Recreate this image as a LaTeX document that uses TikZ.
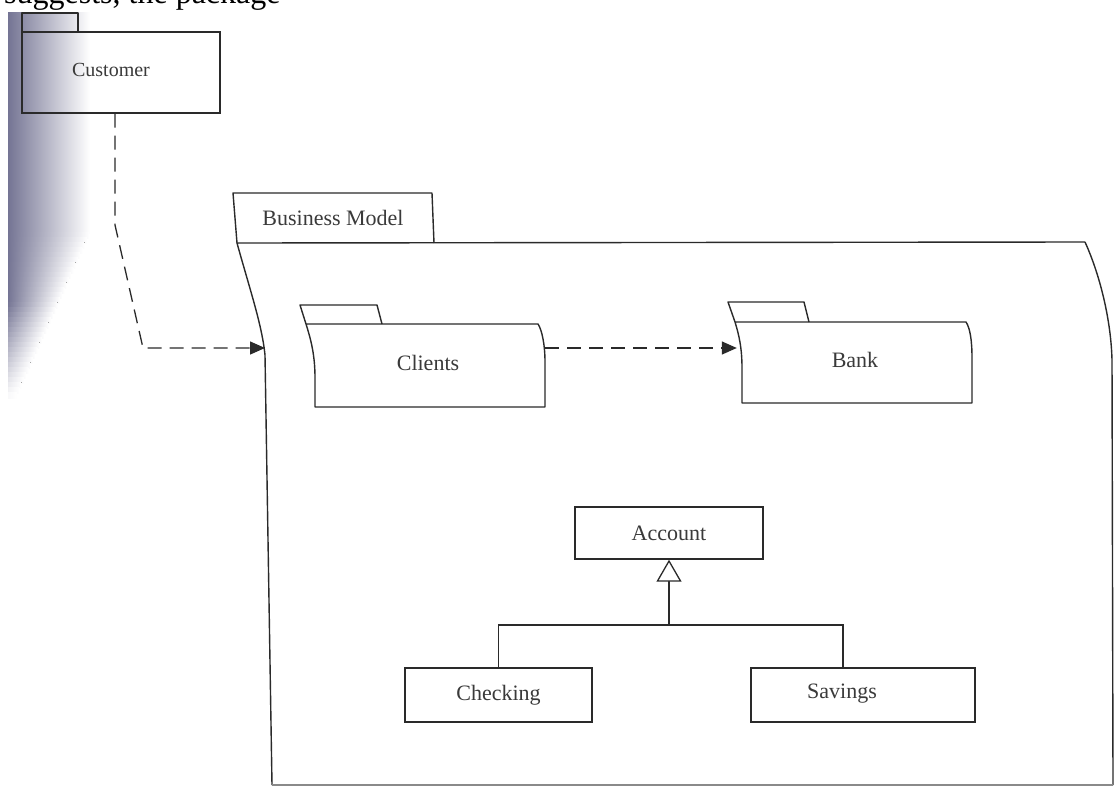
\documentclass[tikz,border=0pt]{standalone}
\usepackage{fontspec}
\setmainfont{Liberation Serif}
\usetikzlibrary{arrows.meta}
\definecolor{ink}{HTML}{2A2A2A}
\definecolor{txtc}{HTML}{3A3A3A}
\definecolor{shadowc}{HTML}{56567C}
\definecolor{edgec}{HTML}{8A8A8A}
\begin{document}
\begin{tikzpicture}[x=1pt,y=-1pt,
  pkg/.style={draw=ink, line width=1.4pt, line join=round},
  box/.style={draw=ink, line width=1.4pt, rectangle, inner sep=0pt},
  lbl/.style={text=txtc, font=\fontsize{22}{26}\selectfont, inner sep=0pt},
  dep/.style={draw=ink, line width=1.3pt, dash pattern=on 14pt off 8pt, -{Triangle[length=15pt,width=13pt]}},
  gen/.style={draw=ink, line width=1.3pt}
]
\useasboundingbox (0,0) rectangle (1116,787);
\fill[white] (0,0) rectangle (1116,787);
\clip (0,0) rectangle (1116,787);

% scanner shadow on the left edge
\foreach \i in {0,...,76}{
  \pgfmathsetmacro{\yy}{12+5*\i}
  \pgfmathsetmacro{\ww}{\yy<230 ? 82 : 82-(\yy-230)*0.45}
  \pgfmathsetmacro{\ss}{\yy<300 ? 82 : max(0,82-(\yy-300)*0.85)}
  \fill[left color=shadowc!\ss!white, middle color=shadowc!\ss!white!75!white, right color=white] (8,\yy) rectangle (8+\ww,\yy+6);
}

% clipped text line at the top
\node[anchor=base west, font=\fontsize{32}{36}\selectfont, inner sep=0pt] (toptext) at (4,4) {suggests, the package};

% Customer package
\draw[pkg] (22,32) -- (22,13) -- (78,13) -- (78,32);
\node[box, minimum width=198pt, minimum height=81pt] (customer) at (121,72.5) {};
\node[lbl, font=\fontsize{20}{24}\selectfont] (customertext) at (111,70) {Customer};

% Business Model package
\draw[pkg] (237,243) -- (233,193) -- (432,193) -- (434,243);
\draw[pkg] (1085,242) -- (237,243) .. controls (250,290) and (262,325) .. (265,355) -- (272,785);
\draw[pkg] (1085,242) .. controls (1100,275) and (1111,320) .. (1112,360) -- (1113,785);
\draw[draw=edgec, line width=1.4pt] (272,785) -- (1113,785);
\node[lbl] (bm) at (333,218) {Business Model};
\coordinate (bmin) at (265,348);

% Clients package
\draw[pkg] (306,324) -- (300,305) -- (377,305) -- (382,324);
\draw[pkg] (306,324) .. controls (311,340) and (315,355) .. (315,378) -- (315,407) -- (545,407) -- (545,362) .. controls (545,345) and (542,330) .. (538,324) -- cycle;
\node[minimum width=230pt, minimum height=83pt, inner sep=0pt] (clients) at (430,365.5) {};
\node[lbl] (clientstext) at (428,363) {Clients};

% Bank package
\draw[pkg] (735,322) -- (728,302) -- (804,302) -- (809,322);
\draw[pkg] (735,322) .. controls (739,335) and (742,348) .. (742,368) -- (742,403) -- (972,403) -- (972,358) .. controls (972,340) and (970,328) .. (966,322) -- cycle;
\node[minimum width=235pt, minimum height=81pt, inner sep=0pt] (bank) at (854.5,362.5) {};
\node[lbl] (banktext) at (855,360) {Bank};

% dependencies
\coordinate (cbend1) at (115,225);
\coordinate (cbend2) at (143,348);
\draw[dep] ([xshift=-6pt]customer.south) -- (cbend1) -- (cbend2) -- (bmin);
\draw[dep] ([yshift=17.5pt]clients.east) -- ([yshift=14.5pt]bank.west);

% classes
\node[box, minimum width=188pt, minimum height=52pt, lbl] (account) at (669,533) {Account};
\node[box, minimum width=187pt, minimum height=54pt, lbl] (checking) at (498.5,695) {Checking};
\node[box, minimum width=224pt, minimum height=54pt] (savings) at (863,695) {};
\node[lbl] (savingstext) at (842,694) {Savings};

% generalization
\coordinate (gj) at (669,625);
\draw[gen] (checking.north) |- (gj) -| ([xshift=-20pt]savings.north);
\draw[gen, -{Triangle[open, length=22pt, width=25pt, fill=white]}] (gj) -- (account.south);
\end{tikzpicture}
\end{document}
